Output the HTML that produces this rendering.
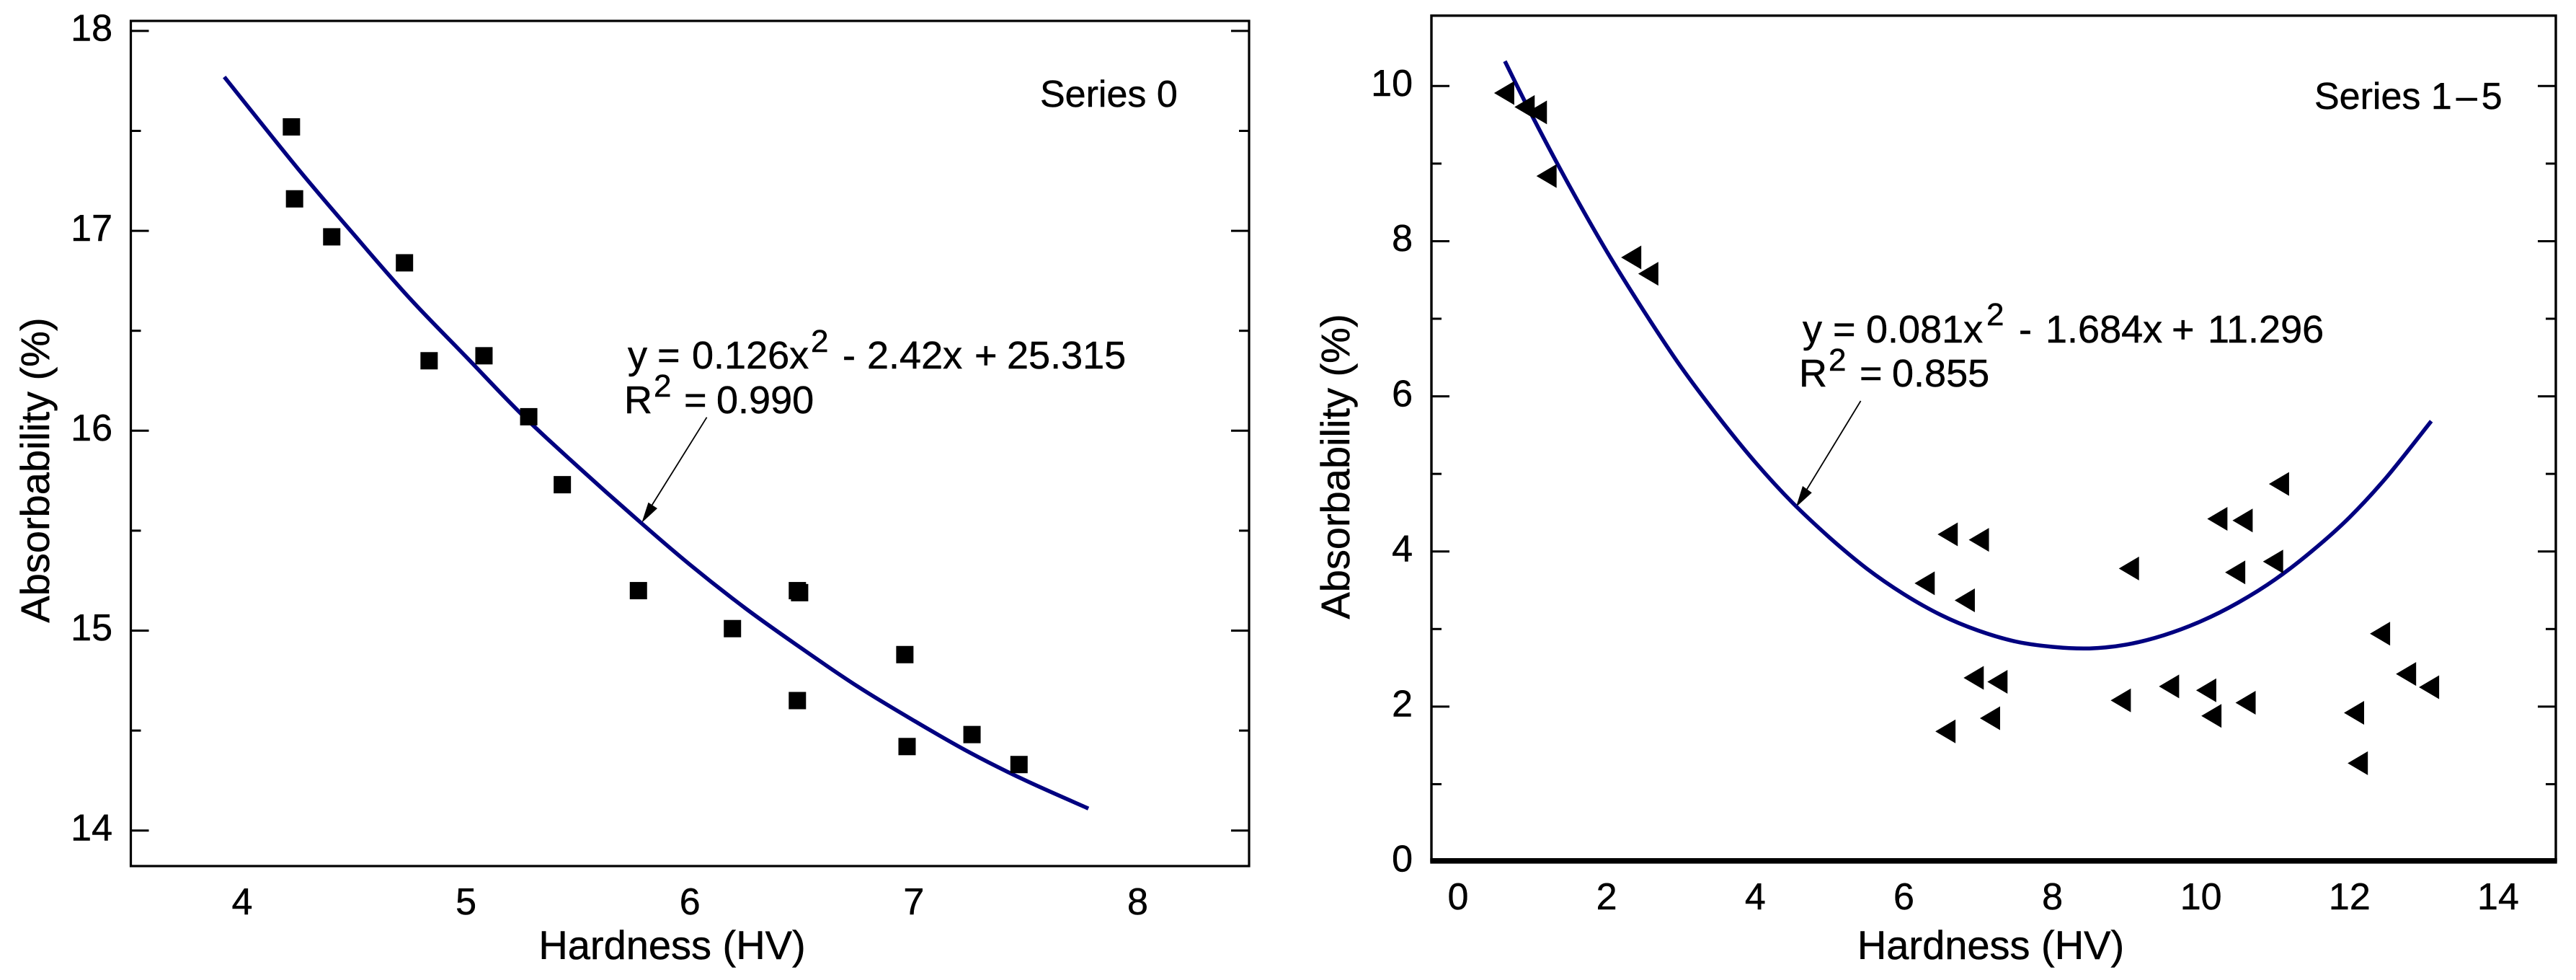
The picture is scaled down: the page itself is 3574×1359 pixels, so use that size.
<!DOCTYPE html>
<html lang="en">
<head>
<meta charset="utf-8">
<title>Absorbability vs Hardness</title>
<style>
html,body{margin:0;padding:0;background:#fff;width:3574px;height:1359px;overflow:hidden}
svg{display:block}
text{font-family:"Liberation Sans",Arial,sans-serif;fill:#000;stroke:#000;stroke-width:.5px}
</style>
</head>
<body>
<svg id="chart" xmlns="http://www.w3.org/2000/svg" width="3574" height="1359" viewBox="0 0 3574 1359">
  <rect x="0" y="0" width="3574" height="1359" fill="#fff"/>

  <g id="panel-left">
    <rect x="181.5" y="29" width="1551.5" height="1172" fill="none" stroke="#000" stroke-width="3.2"/>
    <text x="932.5" y="1330" font-size="56" text-anchor="middle">Hardness (HV)</text>
    <text transform="translate(68,652) rotate(-90)" font-size="56" text-anchor="middle">Absorbability (%)</text>
    <text x="1443" y="148" font-size="52">Series 0</text>
    <text x="871" y="511" font-size="54">y</text>
    <text x="912" y="511" font-size="54">=</text>
    <text x="960" y="511" font-size="54">0.126x</text>
    <text x="1125" y="488" font-size="44">2</text>
    <text x="1169" y="511" font-size="54">-</text>
    <text x="1203" y="511" font-size="54">2.42x</text>
    <text x="1352" y="511" font-size="54">+</text>
    <text x="1397" y="511" font-size="54">25.315</text>
    <text x="866" y="573" font-size="54">R</text>
    <text x="907" y="550" font-size="44">2</text>
    <text x="949" y="573" font-size="54">=</text>
    <text x="994" y="573" font-size="54">0.990</text>
    <line x1="980.6" y1="578.7" x2="903" y2="703" stroke="#000" stroke-width="1.8"/>
    <polygon points="890.3,725 899.5,696.7 912,705" fill="#000"/>
  </g>

  <g id="panel-right">
    <rect x="1986" y="21.7" width="1560" height="1172" fill="none" stroke="#000" stroke-width="3.4"/>
    <line x1="1984.3" y1="1193.8" x2="3547.7" y2="1193.8" stroke="#000" stroke-width="7.7"/>
    <text x="2762" y="1330" font-size="56" text-anchor="middle">Hardness (HV)</text>
    <text transform="translate(1872,647) rotate(-90)" font-size="56" text-anchor="middle">Absorbability (%)</text>
    <text x="3211" y="151" font-size="52">Series 1<tspan dx="6">–</tspan><tspan dx="6">5</tspan></text>
    <text x="2501" y="475" font-size="54">y</text>
    <text x="2543" y="475" font-size="54">=</text>
    <text x="2589" y="475" font-size="54">0.081x</text>
    <text x="2756" y="451" font-size="44">2</text>
    <text x="2801" y="475" font-size="54">-</text>
    <text x="2838" y="475" font-size="54">1.684x</text>
    <text x="3013" y="475" font-size="54">+</text>
    <text x="3063" y="475" font-size="54">11.296</text>
    <text x="2496" y="536" font-size="54">R</text>
    <text x="2537" y="514" font-size="44">2</text>
    <text x="2580" y="536" font-size="54">=</text>
    <text x="2625" y="536" font-size="54">0.855</text>
    <line x1="2581.6" y1="556" x2="2506" y2="680" stroke="#000" stroke-width="1.8"/>
    <polygon points="2491.8,703.3 2501,674 2513.8,683.3" fill="#000"/>
  </g>
</svg>

<script>
// Left panel (Series 0) data
const leftXTicks = [4, 5, 6, 7, 8];
const leftYMajorTicks = [14, 15, 16, 17, 18];
const leftYMinorTicks = [14.5, 15.5, 16.5, 17.5];
const leftPointX = [4.22, 4.234, 4.40, 4.725, 4.835, 5.08, 5.28, 5.43, 5.77, 6.19, 6.48, 6.49, 6.48, 6.96, 6.97, 7.26, 7.47];
const leftPointY = [17.52, 17.16, 16.97, 16.84, 16.35, 16.375, 16.07, 15.73, 15.20, 15.01, 15.20, 15.19, 14.65, 14.88, 14.42, 14.48, 14.33];
const leftCurveX = [3.92, 4.25, 4.5, 4.75, 5, 5.25, 5.5, 5.75, 6, 6.25, 6.5, 6.75, 7, 7.25, 7.5, 7.78];
const leftCurveY = [17.77, 17.31, 16.98, 16.66, 16.37, 16.08, 15.82, 15.57, 15.33, 15.11, 14.91, 14.72, 14.55, 14.39, 14.25, 14.11];

// Right panel (Series 1-5) data
const rightXTicks = [0, 2, 4, 6, 8, 10, 12, 14];
const rightYMajorTicks = [0, 2, 4, 6, 8, 10];
const rightYMinorTicks = [1, 3, 5, 7, 9];
const rightPointX = [0.62, 0.895, 1.06, 1.19, 2.33, 2.56, 6.28, 6.59, 7.01, 6.82, 6.94, 7.26, 7.16, 6.56, 9.03, 8.92, 9.57, 10.07, 10.14, 10.60, 10.22, 10.56, 10.46, 10.97, 11.05, 12.41, 12.76, 13.07, 12.06, 12.11];
const rightPointY = [9.91, 9.73, 9.66, 8.84, 7.79, 7.58, 3.59, 4.22, 4.15, 3.37, 2.37, 2.32, 1.85, 1.68, 3.78, 2.08, 2.26, 2.21, 1.88, 2.05, 4.42, 4.40, 3.73, 3.87, 4.87, 2.94, 2.42, 2.25, 1.92, 1.27];
const rightCurveX = [0.63, 1, 1.5, 2, 2.5, 3, 3.5, 4, 4.5, 5, 5.5, 6, 6.5, 7, 7.5, 8, 8.5, 9, 9.5, 10, 10.5, 11, 11.5, 12, 12.5, 13.1];
const rightCurveY = [10.32, 9.61, 8.71, 7.87, 7.10, 6.38, 5.74, 5.15, 4.63, 4.18, 3.78, 3.45, 3.18, 2.98, 2.84, 2.77, 2.75, 2.80, 2.92, 3.10, 3.34, 3.64, 4.01, 4.44, 4.96, 5.68];

const NS = 'http://www.w3.org/2000/svg';

// Axis functions: left panel
function leftX(v) { return 336 + (v - 4) * 310.6; }
function leftY(v) { return 1151.7 - (v - 14) * 277.2; }
// Axis functions: right panel
function rightX(v) { return 2023 + v * 103.07; }
function rightY(v) { return 1195 - v * 107.57; }

function make(parent, tag, attrs, text) {
  const el = document.createElementNS(NS, tag);
  for (const k in attrs) el.setAttribute(k, attrs[k]);
  if (text !== undefined) el.textContent = text;
  parent.appendChild(el);
  return el;
}

function curvePath(xs, ys, fx, fy) {
  const p = xs.map(function (x, i) { return [fx(x), fy(ys[i])]; });
  let d = 'M' + p[0][0].toFixed(1) + ' ' + p[0][1].toFixed(1);
  for (let i = 0; i < p.length - 1; i++) {
    const a = p[Math.max(i - 1, 0)], b = p[i], c = p[i + 1], e = p[Math.min(i + 2, p.length - 1)];
    const c1x = b[0] + (c[0] - a[0]) / 6, c1y = b[1] + (c[1] - a[1]) / 6;
    const c2x = c[0] - (e[0] - b[0]) / 6, c2y = c[1] - (e[1] - b[1]) / 6;
    d += 'C' + c1x.toFixed(1) + ' ' + c1y.toFixed(1) + ' ' + c2x.toFixed(1) + ' ' + c2y.toFixed(1) + ' ' + c[0].toFixed(1) + ' ' + c[1].toFixed(1);
  }
  return d;
}

function drawYTicks(g, values, fy, left, right, length) {
  values.forEach(function (v) {
    const y = fy(v);
    const a = make(g, 'line', { x1: left, y1: y, x2: left + length, y2: y, stroke: '#000', 'stroke-width': 3 });
    
    
    const b = make(g, 'line', { x1: right - length, y1: y, x2: right, y2: y, stroke: '#000', 'stroke-width': 3 });
    
    
  });
}

function drawYLabels(g, values, fy, anchorX) {
  values.forEach(function (v) {
    const t = make(g, 'text', { x: anchorX, y: fy(v) + 13.7, 'font-size': 52, 'text-anchor': 'end' }, String(v));
    
    
  });
}

function drawXLabels(g, values, fx, baseY) {
  values.forEach(function (v) {
    const t = make(g, 'text', { x: fx(v), y: baseY, 'font-size': 52, 'text-anchor': 'middle' }, String(v));
    
    
  });
}

const gL = document.getElementById('panel-left');
const gR = document.getElementById('panel-right');

// Left panel axes
drawYTicks(gL, leftYMajorTicks, leftY, 181.5, 1733, 25);
drawYTicks(gL, leftYMinorTicks, leftY, 181.5, 1733, 14);
drawYLabels(gL, leftYMajorTicks, leftY, 156);
drawXLabels(gL, leftXTicks, leftX, 1268);

// Left panel curve
const leftCurve = make(gL, 'path', { d: curvePath(leftCurveX, leftCurveY, leftX, leftY), fill: 'none', stroke: '#000080', 'stroke-width': 5.5 });



// Left panel points
leftPointX.forEach(function (x, i) {
  const cx = leftX(x), cy = leftY(leftPointY[i]);
  const m = make(gL, 'rect', { x: cx - 12, y: cy - 12, width: 24, height: 24, fill: '#000' });
  
  
});

// Right panel axes
drawYTicks(gR, rightYMajorTicks, rightY, 1986, 3546, 25);
drawYTicks(gR, rightYMinorTicks, rightY, 1986, 3546, 14);
drawYLabels(gR, rightYMajorTicks, rightY, 1960);
drawXLabels(gR, rightXTicks, rightX, 1261);

// Right panel curve
const rightCurve = make(gR, 'path', { d: curvePath(rightCurveX, rightCurveY, rightX, rightY), fill: 'none', stroke: '#000080', 'stroke-width': 5.5 });



// Right panel points
rightPointX.forEach(function (x, i) {
  const cx = rightX(x), cy = rightY(rightPointY[i]);
  const pts = (cx - 14) + ',' + cy + ' ' + (cx + 14) + ',' + (cy - 16.5) + ' ' + (cx + 14) + ',' + (cy + 16.5);
  const m = make(gR, 'polygon', { points: pts, fill: '#000' });
  
  
});
</script>
</body>
</html>
